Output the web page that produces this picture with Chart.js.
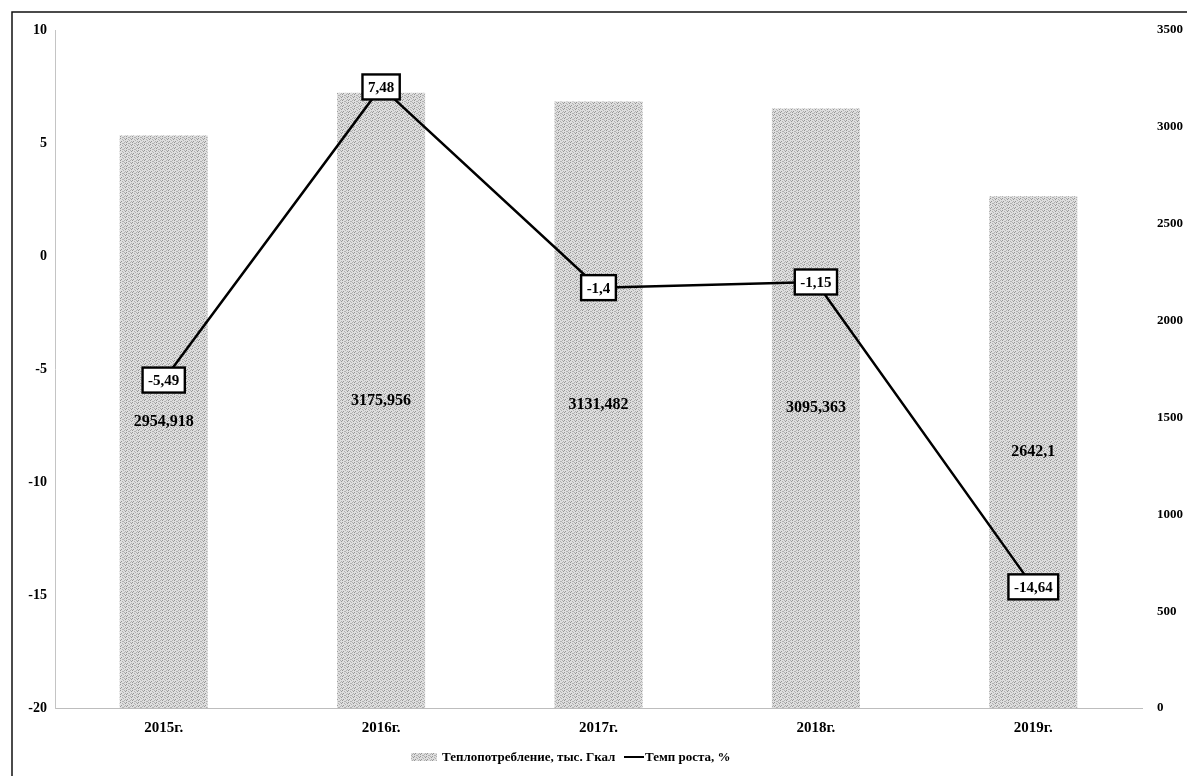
<!DOCTYPE html>
<html>
<head>
<meta charset="utf-8">
<script src="https://cdn.jsdelivr.net/npm/chart.js@4/dist/chart.umd.min.js"></script>
<style>
  html, body { margin: 0; padding: 0; background: #fff; overflow: hidden; }
  #wrap { position: relative; width: 1200px; height: 776px; }
</style>
</head>
<body>
<div id="wrap"><canvas id="c" width="1200" height="776"></canvas></div>
<script>
// Years on the category axis
const years = ['2015г.', '2016г.', '2017г.', '2018г.', '2019г.'];
// Heat consumption, thousand Gcal (right axis)
const heatUse = [2954.918, 3175.956, 3131.482, 3095.363, 2642.1];
// Growth rate, % (left axis)
const growthRate = [-5.49, 7.48, -1.4, -1.15, -14.64];
// Left axis ticks
const leftTicks = [10, 5, 0, -5, -10, -15, -20];
// Right axis ticks
const rightTicks = [0, 500, 1000, 1500, 2000, 2500, 3000, 3500];

const seriesNames = ['Теплопотребление, тыс. Гкал', 'Темп роста, %'];
const serif = "'Liberation Serif', 'Times New Roman', serif";

// Speckled grey fill for the bars
function makeStipple() {
  const c = document.createElement('canvas');
  c.width = 6; c.height = 6;
  const g = c.getContext('2d');
  g.fillStyle = '#dedede';
  g.fillRect(0, 0, 6, 6);
  const dots = [[0,0],[2,1],[4,0],[1,3],[3,2],[5,3],[0,4],[2,5],[4,4],[5,1],[3,5]];
  dots.forEach(([x, y], i) => {
    g.fillStyle = i % 3 === 0 ? '#959595' : '#b0b0b0';
    g.fillRect(x, y, 1, 1);
  });
  return g.createPattern(c, 'repeat');
}

const fmt = v => String(v).replace('.', ',');

// Value labels: centred on bars, boxed on line points
const valueLabels = {
  id: 'valueLabels',
  afterDatasetsDraw(chart) {
    const ctx = chart.ctx;
    ctx.save();
    ctx.textAlign = 'center';
    ctx.textBaseline = 'middle';
    ctx.font = 'bold 16px ' + serif;
    const barMeta = chart.getDatasetMeta(1);
    barMeta.data.forEach((bar, i) => {
      ctx.fillStyle = '#000';
      ctx.fillText(fmt(heatUse[i]), bar.x, (bar.y + bar.base) / 2);
    });
    ctx.font = 'bold 15px ' + serif;
    const lineMeta = chart.getDatasetMeta(0);
    lineMeta.data.forEach((pt, i) => {
      const t = fmt(growthRate[i]);
      const w = ctx.measureText(t).width + 11;
      const h = 25;
      ctx.fillStyle = '#fff';
      ctx.fillRect(pt.x - w / 2, pt.y - h / 2, w, h);
      ctx.strokeStyle = '#000';
      ctx.lineWidth = 2.4;
      ctx.strokeRect(pt.x - w / 2, pt.y - h / 2, w, h);
      ctx.fillStyle = '#000';
      ctx.fillText(t, pt.x, pt.y + 1);
    });
    ctx.restore();
  }
};

// Legend row and outer frame
const legendAndFrame = {
  id: 'legendAndFrame',
  afterDraw(chart) {
    const ctx = chart.ctx;
    ctx.save();
    ctx.strokeStyle = '#111';
    ctx.lineWidth = 1.5;
    ctx.beginPath();
    ctx.moveTo(12, 776);
    ctx.lineTo(12, 12);
    ctx.lineTo(1200, 12);
    ctx.stroke();

    const y = 757;
    ctx.font = 'bold 13px ' + serif;
    ctx.textBaseline = 'middle';
    ctx.textAlign = 'left';
    ctx.fillStyle = chart.data.datasets[1].backgroundColor;
    ctx.fillRect(411, y - 4, 26, 8);
    ctx.fillStyle = '#000';
    ctx.fillText(seriesNames[0], 442, y + 1);
    ctx.strokeStyle = '#000';
    ctx.lineWidth = 2;
    ctx.beginPath();
    ctx.moveTo(624, y);
    ctx.lineTo(644, y);
    ctx.stroke();
    ctx.fillText(seriesNames[1], 645, y + 1);
    ctx.restore();
  }
};

new Chart(document.getElementById('c'), {
  data: {
    labels: years,
    datasets: [
      {
        type: 'line',
        label: seriesNames[1],
        data: growthRate,
        yAxisID: 'y',
        borderColor: '#000',
        borderWidth: 2.5,
        pointRadius: 0,
        tension: 0,
        order: 0
      },
      {
        type: 'bar',
        label: seriesNames[0],
        data: heatUse,
        yAxisID: 'y2',
        backgroundColor: makeStipple(),
        borderWidth: 0,
        categoryPercentage: 1,
        barPercentage: 0.405,
        order: 1
      }
    ]
  },
  options: {
    responsive: false,
    devicePixelRatio: 1,
    animation: false,
    layout: { padding: { top: 30, left: 0, right: 0, bottom: 0 } },
    plugins: { legend: { display: false }, tooltip: { enabled: false } },
    scales: {
      x: {
        offset: true,
        grid: { display: false, drawTicks: false },
        border: { display: true, color: '#bdbdbd', width: 1, dash: [2, 3] },
        ticks: { color: '#000', font: { family: serif, size: 15, weight: 'bold' }, padding: 11 },
        afterFit: s => { s.height = 68; }
      },
      y: {
        position: 'left',
        min: -20, max: 10,
        afterBuildTicks: s => { s.ticks = leftTicks.map(v => ({ value: v })); },
        grid: { display: false, drawTicks: false },
        border: { display: true, color: '#c4c4c4', width: 1, dash: [2, 3] },
        ticks: { color: '#000', font: { family: serif, size: 14, weight: 'bold' }, padding: 8,
                 callback: v => String(v) },
        afterFit: s => { s.width = 55; }
      },
      y2: {
        position: 'right',
        min: 0, max: 3500,
        afterBuildTicks: s => { s.ticks = rightTicks.map(v => ({ value: v })); },
        grid: { display: false, drawTicks: false },
        border: { display: false },
        ticks: { color: '#000', font: { family: serif, size: 13, weight: 'bold' }, padding: 15,
                 callback: v => String(v) },
        afterFit: s => { s.width = 58; }
      }
    }
  },
  plugins: [valueLabels, legendAndFrame]
});
</script>
</body>
</html>
